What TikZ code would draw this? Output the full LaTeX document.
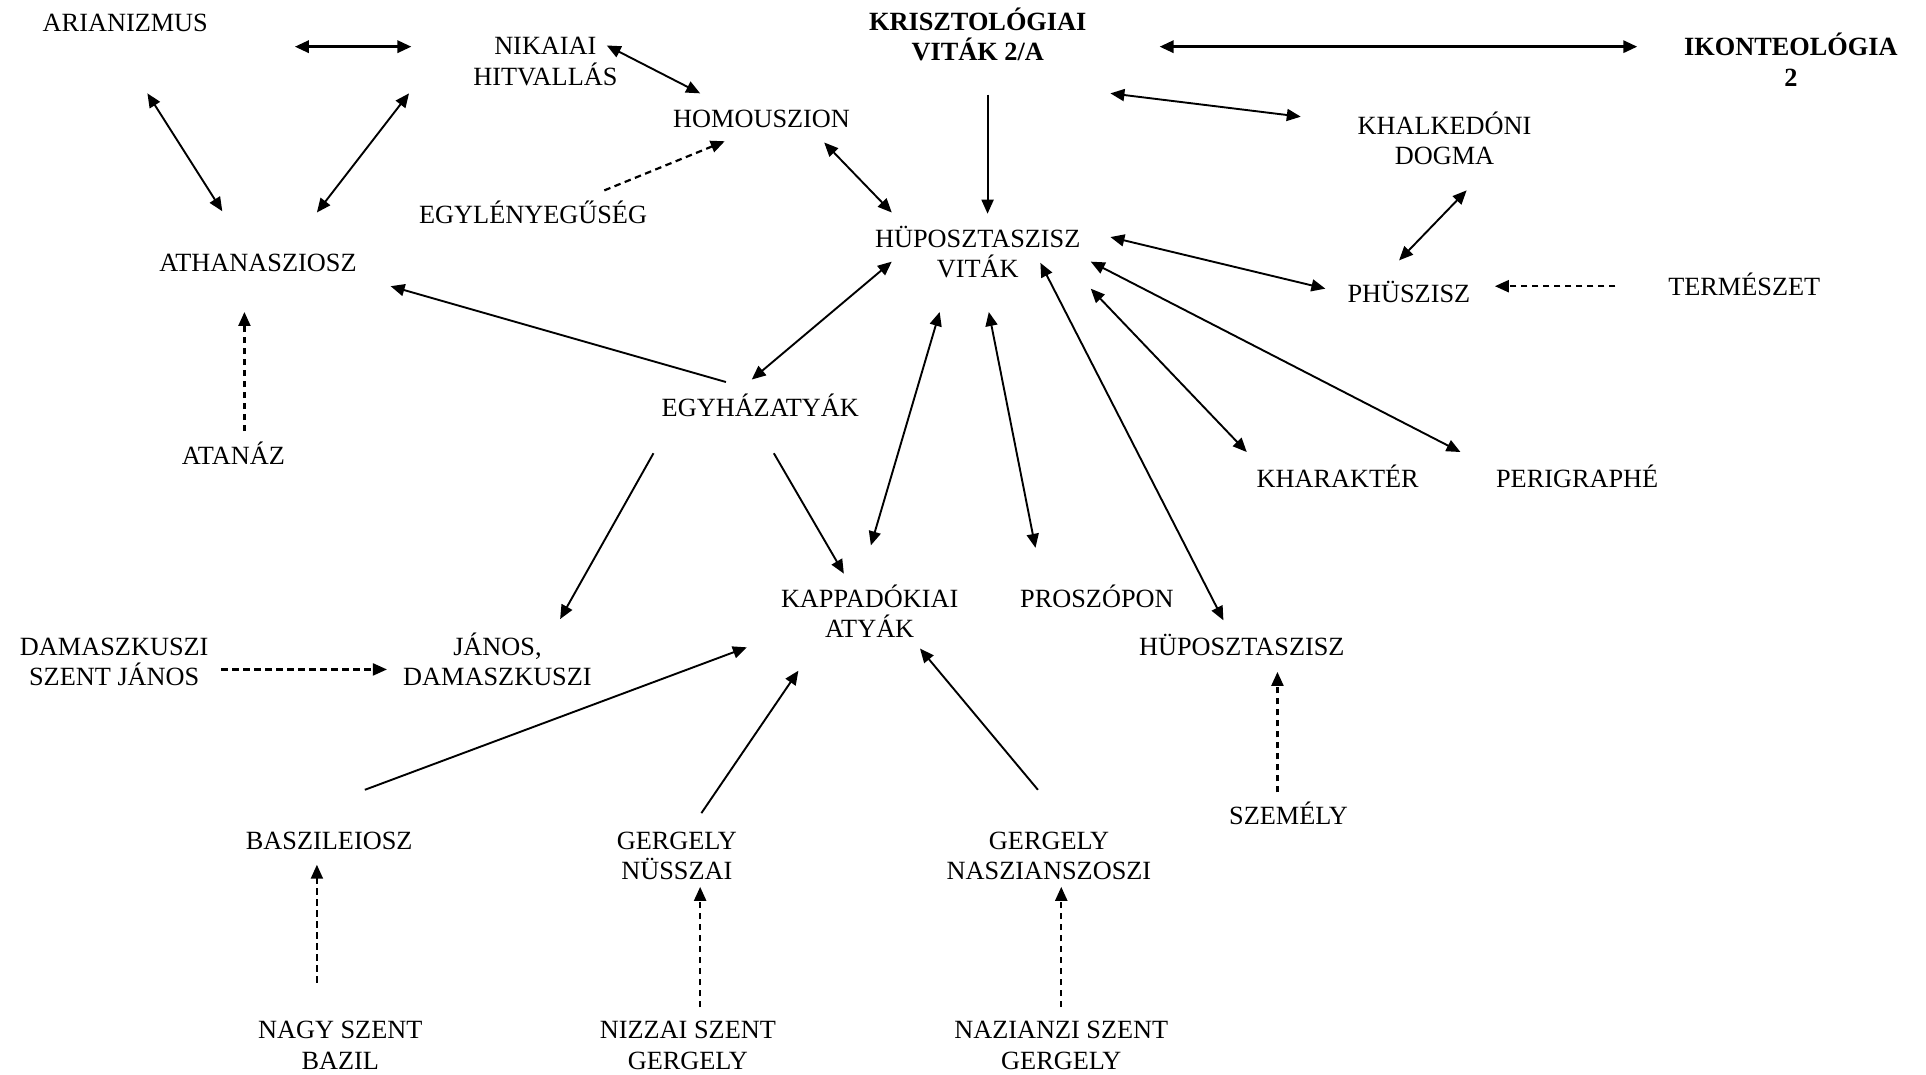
\documentclass[tikz,border=0pt]{standalone}
\usepackage{fontspec}
\setmainfont{Liberation Serif}
\usetikzlibrary{arrows.meta,calc}
\newcommand\myph{\vphantom{Áy}}
\begin{document}
\begin{tikzpicture}[x=1.2283pt,y=-1.2283pt,
  lbl/.style={inner sep=0pt, align=center, font=\fontsize{26.3}{30.5}\selectfont},
  bl/.style={lbl, font=\fontsize{26.3}{30.5}\selectfont\bfseries},
  con/.style={line width=1.9pt, -{Triangle[length=14pt,width=12pt]}},
  bi/.style={line width=1.9pt, {Triangle[length=14pt,width=12pt]}-{Triangle[length=14pt,width=12pt]}},
  thk/.style={bi, line width=3pt},
  dsh/.style={con, line width=2.2pt, dash pattern=on 6.5pt off 4.5pt}]
\useasboundingbox (0,0) rectangle (1568,875);

% nodes
\node[lbl] (ari) at (102,19)  {\myph ARIANIZMUS};
\node[lbl] (nik) at (444,50)  {\myph NIKAIAI\\\myph HITVALLÁS};
\node[bl]  (kri) at (796,30)  {\myph KRISZTOLÓGIAI\\\myph VITÁK 2/A};
\node[bl]  (iko) at (1458,51) {\myph IKONTEOLÓGIA\\\myph 2};
\node[lbl] (hom) at (620,97)  {\myph HOMOUSZION};
\node[lbl] (egl) at (434,175) {\myph EGYLÉNYEGŰSÉG};
\node[lbl] (kha) at (1176,115) {\myph KHALKEDÓNI\\\myph DOGMA};
\node[lbl] (hvi) at (796,207) {\myph HÜPOSZTASZISZ\\\myph VITÁK};
\node[lbl] (ath) at (210,214) {\myph ATHANASZIOSZ};
\node[lbl] (phu) at (1147,239) {\myph PHÜSZISZ};
\node[lbl] (ter) at (1420,234) {\myph TERMÉSZET};
\node[lbl] (egy) at (619,332) {\myph EGYHÁZATYÁK};
\node[lbl] (ata) at (190,371) {\myph ATANÁZ};
\node[lbl] (khr) at (1089,390) {\myph KHARAKTÉR};
\node[lbl] (per) at (1284,390) {\myph PERIGRAPHÉ};
\node[lbl] (kap) at (708,500) {\myph KAPPADÓKIAI\\\myph ATYÁK};
\node[lbl] (pro) at (893,488) {\myph PROSZÓPON};
\node[lbl] (hup) at (1011,527) {\myph HÜPOSZTASZISZ};
\node[lbl] (dsj) at (93,539)  {\myph DAMASZKUSZI\\\myph SZENT JÁNOS};
\node[lbl] (jan) at (405,539) {\myph JÁNOS,\\\myph DAMASZKUSZI};
\node[lbl] (bas) at (268,685) {\myph BASZILEIOSZ};
\node[lbl] (gnu) at (551,697) {\myph GERGELY\\\myph NÜSSZAI};
\node[lbl] (gna) at (854,697) {\myph GERGELY\\\myph NASZIANSZOSZI};
\node[lbl] (sze) at (1049,664) {\myph SZEMÉLY};
\node[lbl] (nsb) at (277,851) {\myph NAGY SZENT\\\myph BAZIL};
\node[lbl] (nsg) at (560,851) {\myph NIZZAI SZENT\\\myph GERGELY};
\node[lbl] (nzg) at (864,851) {\myph NAZIANZI SZENT\\\myph GERGELY};

% connectors
\draw[thk] ($(ari)+(138,19)$) -- ($(nik)+(-109,-12)$);
\draw[bi]  ($(ari)+(18,57)$) -- ($(ath)+(-29,-42)$);
\draw[bi]  ($(nik)+(-111,26)$) -- ($(ath)+(48,-41)$);
\draw[bi]  ($(nik)+(50,-13)$) -- ($(hom)+(-50,-21)$);
\draw[dsh] ($(egl)+(58,-20)$) -- ($(hom)+(-30,18)$);
\draw[bi]  ($(hom)+(51,19)$) -- ($(hvi)+(-70,-34)$);
\draw[con] ($(kri)+(8,47)$) -- ($(hvi)+(8,-33)$);
\draw[thk] ($(kri)+(148,8)$) -- ($(iko)+(-125,-13)$);
\draw[bi]  ($(kri)+(108,46)$) -- ($(kha)+(-117,-20)$);
\draw[bi]  ($(kha)+(18,40)$) -- ($(phu)+(-8,-27)$);
\draw[bi]  ($(hvi)+(108,-14)$) -- ($(phu)+(-68,-4)$);
\draw[dsh] ($(ter)+(-105,-1)$) -- ($(phu)+(70,-6)$);
\draw[con] ($(egy)+(-28,-21)$) -- ($(ath)+(108,19)$);
\draw[bi]  ($(hvi)+(-70,6)$) -- ($(egy)+(-7,-23)$);
\draw[dsh] ($(ata)+(9,-20)$) -- ($(ath)+(-11,40)$);
\draw[con] ($(egy)+(-87,37)$) -- ($(jan)+(51,-35)$);
\draw[con] ($(egy)+(11,37)$) -- ($(kap)+(-21,-33)$);
\draw[bi]  ($(hvi)+(-31,47)$) -- ($(kap)+(1,-56)$);
\draw[bi]  ($(hvi)+(9,47)$) -- ($(pro)+(-50,-42)$);
\draw[bi]  ($(hvi)+(51,7)$) -- ($(hup)+(-15,-22)$);
\draw[bi]  ($(hvi)+(92,28)$) -- ($(khr)+(-74,-22)$);
\draw[bi]  ($(hvi)+(92,6)$) -- ($(per)+(-95,-22)$);
\draw[dsh] ($(sze)+(-9,-19)$) -- ($(hup)+(29,20)$);
\draw[dsh] ($(dsj)+(87,6)$) -- ($(jan)+(-90,6)$);
\draw[con] ($(bas)+(29,-42)$) -- ($(kap)+(-100,27)$);
\draw[con] ($(gnu)+(20,-35)$) -- ($(kap)+(-58,46)$);
\draw[con] ($(gna)+(-9,-54)$) -- ($(kap)+(41,28)$);
\draw[dsh] ($(nsb)+(-19,-51)$) -- ($(bas)+(-10,19)$);
\draw[dsh] ($(nsg)+(10,-31)$) -- ($(gnu)+(19,25)$);
\draw[dsh] ($(nzg)+(0,-31)$) -- ($(gna)+(10,25)$);
\end{tikzpicture}
\end{document}
